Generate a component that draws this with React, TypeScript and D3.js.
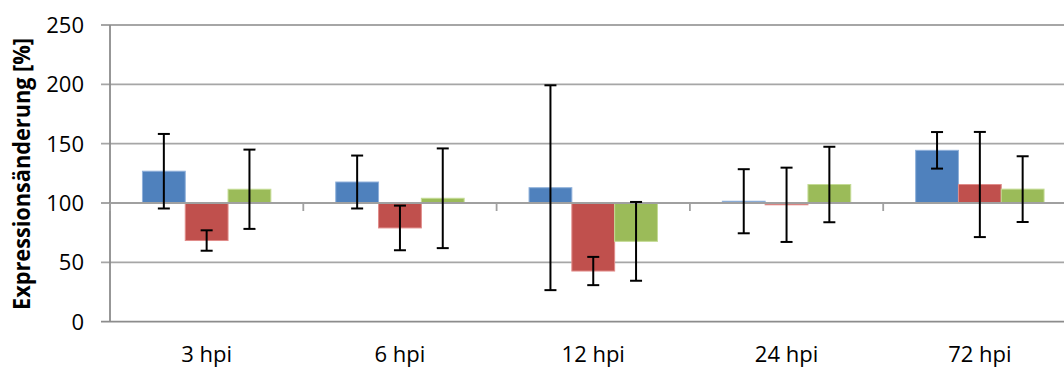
import React from 'react';
import * as d3 from 'd3';

const categories = ['3 hpi', '6 hpi', '12 hpi', '24 hpi', '72 hpi'];
const seriesNames = ['A', 'B', 'C'];
const seriesColors = ['#4F81BD', '#C0504D', '#9BBB59'];
const seriesEdge = ['#8FB0DA', '#E08C8A', '#C4DB95'];
const blueValues = [126.8, 117.7, 112.9, 101.5, 144.4];
const blueErrors = [31.4, 22.3, 86.3, 27.0, 15.4];
const redValues = [68.4, 79.0, 42.7, 98.5, 115.6];
const redErrors = [8.6, 18.8, 11.9, 31.3, 44.3];
const greenValues = [111.6, 104.0, 67.7, 115.6, 111.7];
const greenErrors = [33.4, 42.0, 33.2, 31.8, 27.7];
const yTicks = [0, 50, 100, 150, 200, 250];

const values = [blueValues, redValues, greenValues];
const errors = [blueErrors, redErrors, greenErrors];

export default function App() {
  const W = 1064, H = 367;
  const left = 110, catW = 193.3;
  const y = d3.scaleLinear().domain([0, 250]).range([321.7, 25]);
  const x0 = d3.scaleBand<string>().domain(categories).range([left, left + catW * categories.length]).padding(0);
  const x1 = d3.scaleBand<string>().domain(seriesNames).range([0, x0.bandwidth()]).paddingInner(0).paddingOuter(0.758);
  const base = y(100);
  const font = "'Open Sans', 'Liberation Sans', sans-serif";
  const boundaries = d3.range(categories.length + 1).map(i => left + i * x0.bandwidth());

  return (
    <svg width={W} height={H} style={{ position: 'absolute', left: 0, top: 0, background: '#fff' }} fontFamily={font}>
      {yTicks.map(t => (
        <line key={'g' + t} x1={101} x2={W} y1={y(t)} y2={y(t)} stroke={t === 0 ? '#8C8C8C' : '#A6A6A6'} strokeWidth={1.8} />
      ))}
      <line x1={left} x2={left} y1={y(250)} y2={y(0)} stroke="#8C8C8C" strokeWidth={1.8} />
      {yTicks.map(t => (
        <text key={'t' + t} x={84} y={y(t)} dy="0.36em" textAnchor="end" fontSize={22} fill="#000">{t}</text>
      ))}
      {categories.map((c, ci) => (
        <g key={c} transform={`translate(${x0(c)},0)`}>
          {seriesNames.map((s, si) => {
            const v = values[si][ci];
            const yv = y(v);
            return (
              <rect key={s} x={x1(s)!} width={x1.bandwidth()} y={Math.min(yv, base)} height={Math.max(Math.abs(yv - base), 0.5)}
                fill={seriesColors[si]} stroke={seriesEdge[si]} strokeWidth={1} />
            );
          })}
        </g>
      ))}
      <line x1={left} x2={W} y1={base} y2={base} stroke="#A0A0A0" strokeWidth={1.8} />
      {boundaries.map((bx, i) => (
        <line key={'b' + i} x1={bx} x2={bx} y1={base} y2={base + 8} stroke="#A0A0A0" strokeWidth={1.8} />
      ))}
      {categories.map((c, ci) => (
        <g key={'e' + c} transform={`translate(${x0(c)},0)`}>
          {seriesNames.map((s, si) => {
            const v = values[si][ci], e = errors[si][ci];
            const cx = x1(s)! + x1.bandwidth() / 2;
            return (
              <g key={s} stroke="#000" strokeWidth={2}>
                <line x1={cx} x2={cx} y1={y(v + e)} y2={y(v - e)} />
                <line x1={cx - 6} x2={cx + 6} y1={y(v + e)} y2={y(v + e)} />
                <line x1={cx - 6} x2={cx + 6} y1={y(v - e)} y2={y(v - e)} />
              </g>
            );
          })}
        </g>
      ))}
      {categories.map(c => (
        <text key={'x' + c} x={x0(c)! + x0.bandwidth() / 2} y={362} textAnchor="middle" fontSize={22} fill="#000">{c}</text>
      ))}
      <text transform={`translate(30,174) rotate(-90)`} textAnchor="middle" fontSize={23} fontWeight="bold" fill="#000"
        textLength={272} lengthAdjust="spacingAndGlyphs">Expressionsänderung [%]</text>
    </svg>
  );
}
